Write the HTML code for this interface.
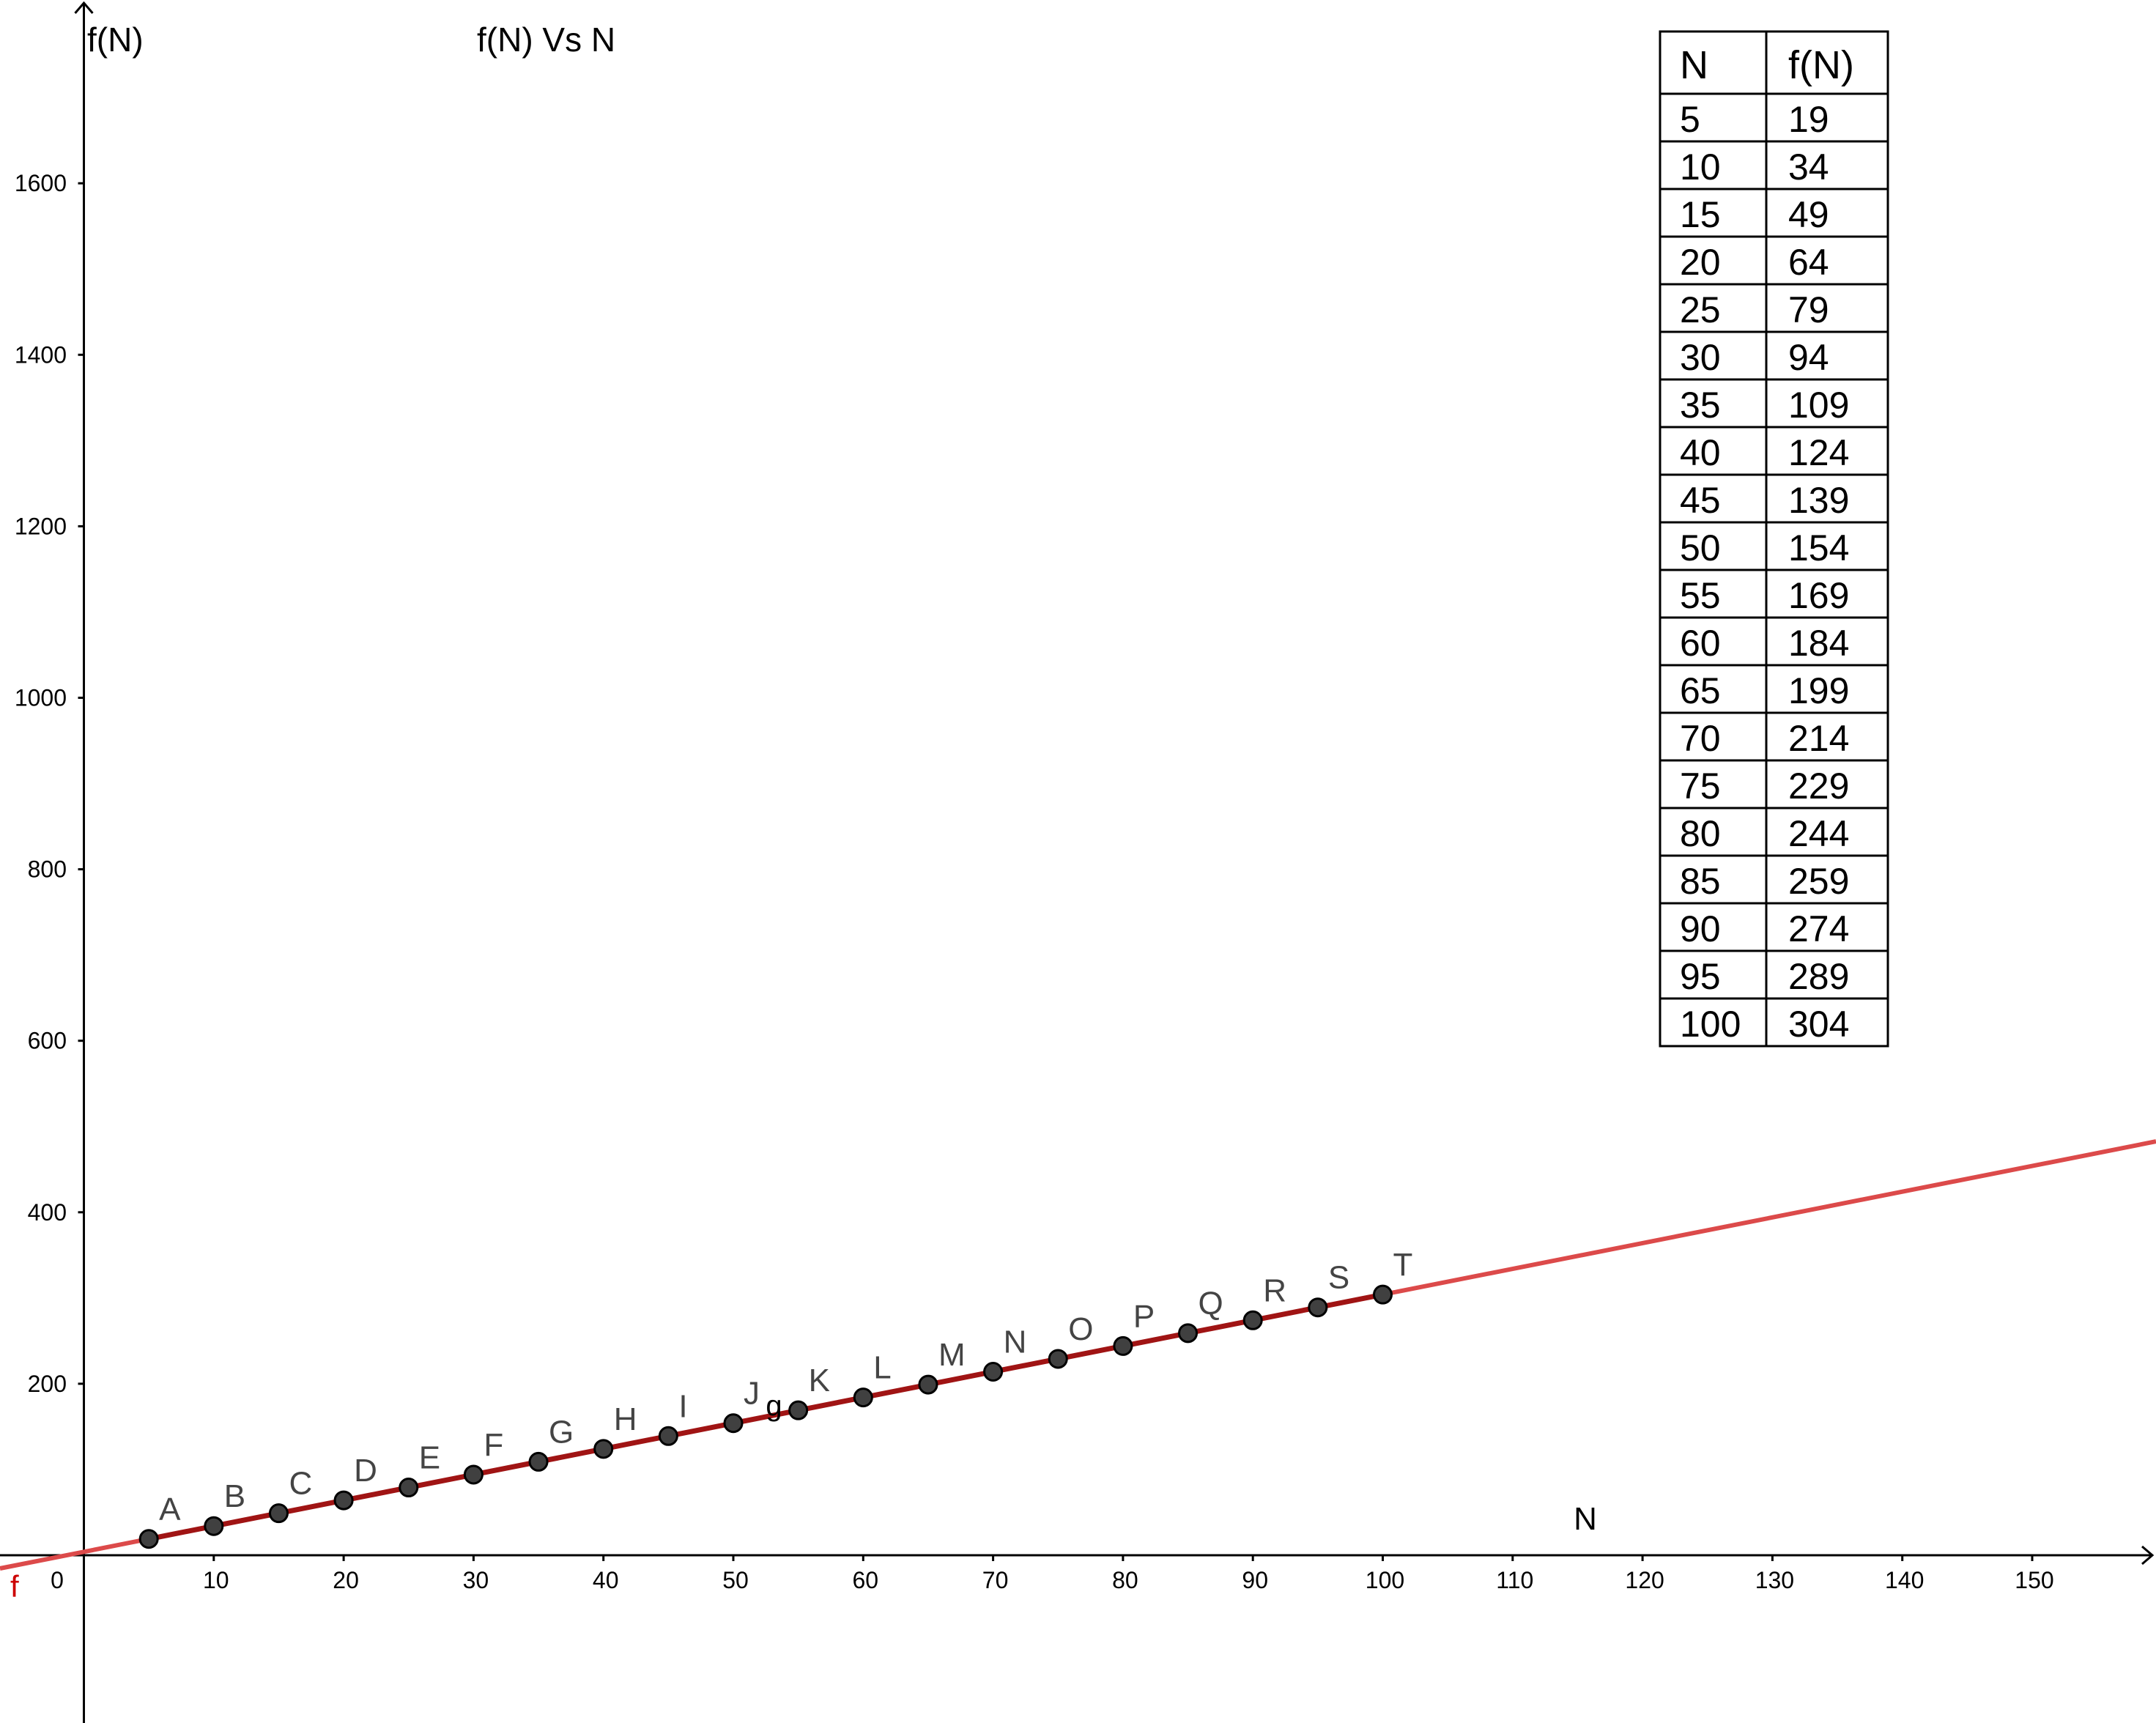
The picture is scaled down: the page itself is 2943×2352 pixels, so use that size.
<!DOCTYPE html>
<html><head><meta charset="utf-8"><style>
html,body{margin:0;padding:0;background:#fff;}
svg{display:block;font-family:"Liberation Sans",sans-serif;}
</style></head><body>
<svg id="chart" width="2943" height="2352" viewBox="0 0 2943 2352">
<g id="axes"></g>
<g id="plot"></g>
<g id="tbl"></g>
<text x="651" y="70" font-size="46" fill="#000">f(N) Vs N</text>
<text x="119" y="70" font-size="46" fill="#000">f(N)</text>
<text x="2164" y="2088" font-size="44" fill="#000" text-anchor="middle">N</text>
<text x="14" y="2180" font-size="42" fill="#cc0000">f</text>
</svg>
<script>
const xTicks=[10,20,30,40,50,60,70,80,90,100,110,120,130,140,150];
const yTicks=[200,400,600,800,1000,1200,1400,1600];
const pointNames=["A","B","C","D","E","F","G","H","I","J","K","L","M","N","O","P","Q","R","S","T"];
const nValues=[5,10,15,20,25,30,35,40,45,50,55,60,65,70,75,80,85,90,95,100];
const fValues=[19,34,49,64,79,94,109,124,139,154,169,184,199,214,229,244,259,274,289,304];
const slope=3, intercept=4;
const NS="http://www.w3.org/2000/svg";
const X0=114.5, XS=17.73, Y0=2123, YS=1.1705;
const sx=v=>X0+v*XS, sy=v=>Y0-v*YS;
function mk(tag,attrs,parent,txt){const e=document.createElementNS(NS,tag);for(const k in attrs)e.setAttribute(k,attrs[k]);if(txt!==undefined)e.textContent=txt;parent.appendChild(e);return e;}
const axes=document.getElementById('axes'),plot=document.getElementById('plot'),tbl=document.getElementById('tbl');
let e;
e=mk('line',{x1:0,y1:Y0,x2:2938,y2:Y0,stroke:'#000','stroke-width':3},axes);


e=mk('path',{d:`M2924 ${Y0-12} L2938 ${Y0} L2924 ${Y0+12}`,fill:'none',stroke:'#000','stroke-width':3},axes);


e=mk('line',{x1:X0,y1:4,x2:X0,y2:2352,stroke:'#000','stroke-width':3},axes);


e=mk('path',{d:`M${X0-12} 18 L${X0} 4 L${X0+12} 18`,fill:'none',stroke:'#000','stroke-width':3},axes);


e=mk('text',{x:78,y:2168,'font-size':32,'text-anchor':'middle'},axes,'0');


xTicks.forEach(t=>{
 e=mk('line',{x1:sx(t),y1:Y0,x2:sx(t),y2:Y0+8,stroke:'#000','stroke-width':3},axes);
 
 
 e=mk('text',{x:sx(t)+3,y:2168,'font-size':32,'text-anchor':'middle'},axes,String(t));
 
 
});
yTicks.forEach(t=>{
 e=mk('line',{x1:X0-8,y1:sy(t),x2:X0,y2:sy(t),stroke:'#000','stroke-width':3},axes);
 
 
 e=mk('text',{x:91,y:sy(t)+11,'font-size':32,'text-anchor':'end'},axes,String(t));
 
 
});
const fx=v=>slope*v+intercept;
const xmin=-X0/XS, xmax=(2943-X0)/XS;
e=mk('line',{x1:sx(xmin),y1:sy(fx(xmin)),x2:sx(xmax),y2:sy(fx(xmax)),stroke:'#dc4a4a','stroke-width':6},plot);


const n0=nValues[0],n1=nValues[nValues.length-1];
e=mk('line',{x1:sx(n0),y1:sy(fValues[0]),x2:sx(n1),y2:sy(fValues[fValues.length-1]),stroke:'#a01414','stroke-width':7},plot);


nValues.forEach((n,i)=>{
 const cx=sx(n),cy=sy(fValues[i]);
 e=mk('circle',{cx:cx,cy:cy,r:12,fill:'#404040',stroke:'#000','stroke-width':3},plot);
 
 
 e=mk('text',{x:cx+14,y:cy-26,'font-size':44,fill:'#444'},plot,pointNames[i]);
 
 
});
e=mk('text',{x:sx(52.5),y:sy(fx(52.5))-2,'font-size':40,fill:'#000'},plot,'g');


const TL=2266,TM=2411,TR=2577,TT=43,HB=128,RH=65;
const TB=HB+RH*nValues.length;
e=mk('rect',{x:TL,y:TT,width:TR-TL,height:TB-TT,fill:'#fff',stroke:'#000','stroke-width':3},tbl);


e=mk('line',{x1:TM,y1:TT,x2:TM,y2:TB,stroke:'#000','stroke-width':3},tbl);


e=mk('line',{x1:TL,y1:HB,x2:TR,y2:HB,stroke:'#000','stroke-width':3},tbl);


e=mk('text',{x:TL+27,y:TT+64,'font-size':54},tbl,'N');


e=mk('text',{x:TM+30,y:TT+64,'font-size':54},tbl,'f(N)');


nValues.forEach((n,i)=>{
 const top=HB+RH*i;
 if(i>0){e=mk('line',{x1:TL,y1:top,x2:TR,y2:top,stroke:'#000','stroke-width':3},tbl);
 
 }
 e=mk('text',{x:TL+27,y:top+52,'font-size':50},tbl,String(n));
 
 
 e=mk('text',{x:TM+30,y:top+52,'font-size':50},tbl,String(fValues[i]));
 
 
});
</script>
</body></html>
